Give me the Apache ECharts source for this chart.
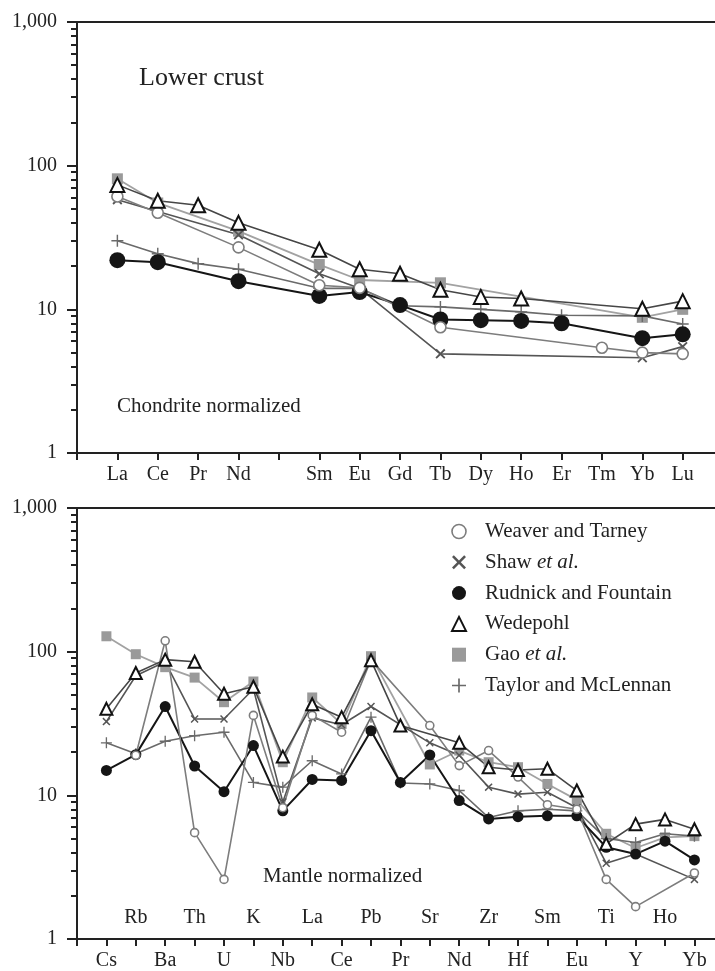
<!DOCTYPE html>
<html>
<head>
<meta charset="utf-8">
<title>Lower crust</title>
<script src="https://cdn.jsdelivr.net/npm/echarts@6/dist/echarts.min.js"></script>
<style>
  html, body { margin: 0; padding: 0; background: #fff; }
  #main { width: 715px; height: 971px; }
</style>
</head>
<body>
<div id="main"></div>
<script>
// 上图：稀土元素（球粒陨石标准化）
var reeLabels = ['La', 'Ce', 'Pr', 'Nd', '', 'Sm', 'Eu', 'Gd', 'Tb', 'Dy', 'Ho', 'Er', 'Tm', 'Yb', 'Lu'];
var weaverREE   = [61, 47, null, 27, null, 14.7, 14.1, null, 7.5, null, null, null, 5.4, 5.0, 4.9];
var shawREE     = [58, 48, null, 33, null, 17.7, 14, null, 4.9, null, null, null, null, 4.6, 5.5];
var rudnickREE  = [22, 21.3, null, 15.7, null, 12.4, 13.2, 10.7, 8.5, 8.4, 8.3, 8.0, null, 6.3, 6.7];
var wedepohlREE = [73.5, 57, 53, 40, null, 26, 19, 17.7, 13.7, 12.2, 11.9, null, null, 10.1, 11.4];
var gaoREE      = [81, 55, null, 35, null, 20.5, 16, null, 15.3, null, null, null, null, 8.8, 10];
var taylorREE   = [30, 24.4, 20.8, 19, null, 14, 14, 10.6, 10.4, 10, 9.6, 9.1, null, 9.0, 7.9];

// 下图：微量元素（原始地幔标准化）
var mantleLabels = ['Cs', 'Rb', 'Ba', 'Th', 'U', 'K', 'Nb', 'La', 'Ce', 'Pb', 'Pr', 'Sr', 'Nd', 'Zr', 'Hf', 'Sm', 'Eu', 'Ti', 'Y', 'Ho', 'Yb'];
var weaverPM   = [null, 19, 119, 5.5, 2.6, 36, 8.2, 36, 27.5, 88, null, 30.6, 16.1, 20.5, 13.4, 8.6, 8.0, 2.6, 1.68, null, 2.88];
var shawPM     = [32.6, 68, 85, 34, 34, 55, 9, 34.6, 31, 41.5, null, 23.2, 19, 11.4, 10.2, 10.5, 8.2, 3.37, 3.9, null, 2.6];
var rudnickPM  = [14.9, 19.2, 41.5, 16, 10.6, 22.2, 7.8, 12.9, 12.7, 28.2, 12.3, 19.1, 9.2, 6.85, 7.1, 7.2, 7.2, 4.35, 3.9, 4.8, 3.55];
var wedepohlPM = [40, 71, 88, 85, 51, 57, 18.6, 43, 35, 87, 30.6, null, 23.2, 15.7, 15, 15.3, 10.8, 4.6, 6.3, 6.8, 5.8];
var gaoPM      = [128, 96, 78, 66, 44.5, 62, 17, 48, 31.4, 93, null, 16.4, 20.5, 17, 15.7, 12, 9.3, 5.4, 4.3, 5.1, 5.2];
var taylorPM   = [23.2, 19.5, 23.8, 26, 27.5, 12.3, 11.4, 17.4, 14.1, 35, 12.2, 12.0, 10.8, 7.0, 7.8, 8.0, 7.8, 5.0, 4.7, 5.4, 5.2];

var yMinorTicks = [2, 3, 4, 5, 6, 7, 8, 9, 20, 30, 40, 50, 60, 70, 80, 90, 200, 300, 400, 500, 600, 700, 800, 900];

var FONT = '"Liberation Serif", "DejaVu Serif", serif';
var AXIS_COLOR = '#222';
var crossPath = 'path://M0,1.3L1.3,0L5,3.7L8.7,0L10,1.3L6.3,5L10,8.7L8.7,10L5,6.3L1.3,10L0,8.7L3.7,5Z';
var plusPath = 'path://M4.4,0H5.6V4.4H10V5.6H5.6V10H4.4V5.6H0V4.4H4.4Z';

var styles = {
	'Weaver and Tarney': { line: '#7d7d7d', symbol: 'circle', fill: '#fff', border: '#7d7d7d', bw: 1.6, size: [11, 8], lw: 1.6 },
	'Shaw et al.': { line: '#555', symbol: crossPath, fill: '#555', border: '#555', bw: 0, size: [10, 8], lw: 1.6 },
	'Rudnick and Fountain': { line: '#151515', symbol: 'circle', fill: '#151515', border: '#151515', bw: 0, size: [16, 11], lw: 2 },
	'Wedepohl': { line: '#464646', symbol: 'triangle', fill: '#fff', border: '#111', bw: 2, size: [14, 12], lw: 1.6 },
	'Gao et al.': { line: '#a2a2a2', symbol: 'rect', fill: '#9a9a9a', border: '#9a9a9a', bw: 0, size: [11, 10], lw: 1.8 },
	'Taylor and McLennan': { line: '#6a6a6a', symbol: plusPath, fill: '#6a6a6a', border: '#6a6a6a', bw: 0, size: [12, 11], lw: 1.6 }
};
var legendOrder = ['Weaver and Tarney', 'Shaw et al.', 'Rudnick and Fountain', 'Wedepohl', 'Gao et al.', 'Taylor and McLennan'];
var drawOrder = ['Gao et al.', 'Taylor and McLennan', 'Shaw et al.', 'Rudnick and Fountain', 'Weaver and Tarney', 'Wedepohl'];
var reeData = {
	'Weaver and Tarney': weaverREE, 'Shaw et al.': shawREE, 'Rudnick and Fountain': rudnickREE,
	'Wedepohl': wedepohlREE, 'Gao et al.': gaoREE, 'Taylor and McLennan': taylorREE
};
var pmData = {
	'Weaver and Tarney': weaverPM, 'Shaw et al.': shawPM, 'Rudnick and Fountain': rudnickPM,
	'Wedepohl': wedepohlPM, 'Gao et al.': gaoPM, 'Taylor and McLennan': taylorPM
};

function toPairs(arr) {
	var out = [];
	for (var i = 0; i < arr.length; i++) {
		out.push([i + 1, arr[i] == null ? null : arr[i]]);
	}
	return out;
}

function makeSeries(name, values, gi, panel) {
	var s = styles[name];
	return {
		name: name,
		type: 'line',
		xAxisIndex: gi * 3,
		yAxisIndex: gi * 2,
		data: toPairs(values),
		connectNulls: true,
		symbol: s.symbol,
		symbolSize: s.size[panel],
		showSymbol: true,
		animation: false,
		lineStyle: { color: s.line, width: s.lw },
		itemStyle: { color: s.fill, borderColor: s.border, borderWidth: s.bw, opacity: 1 },
		emphasis: { disabled: true }
	};
}

function yAxes(gi) {
	return [{
		type: 'log', logBase: 10, gridIndex: gi, min: 1, max: 1000,
		axisLine: { show: true, lineStyle: { color: AXIS_COLOR, width: 2 } },
		axisTick: { show: true, length: 10, lineStyle: { color: AXIS_COLOR, width: 2 } },
		axisLabel: {
			margin: 20, color: '#222', fontFamily: FONT, fontSize: 20,
			formatter: function (v) { return v >= 1000 ? '1,000' : String(v); }
		},
		splitLine: { show: false }
	}, {
		// 对数刻度的次刻度（2~9）
		type: 'value', gridIndex: gi, min: 0, max: 3, position: 'left',
		axisLine: { show: false },
		axisTick: {
			show: true, length: 6, lineStyle: { color: AXIS_COLOR, width: 2 },
			customValues: yMinorTicks.map(function (v) { return Math.log10(v); })
		},
		axisLabel: { show: false },
		splitLine: { show: false }
	}];
}

function xAxes(gi, labels, maxIdx, split) {
	var base = {
		type: 'value', gridIndex: gi, min: 0, max: maxIdx, interval: 1,
		splitLine: { show: false }
	};
	var main = echarts.util.merge({
		position: 'bottom',
		axisLine: { show: true, onZero: false, lineStyle: { color: AXIS_COLOR, width: 2 } },
		axisTick: { show: true, length: 7, lineStyle: { color: AXIS_COLOR, width: 2 } },
		axisLabel: {
			margin: 12, color: '#222', fontFamily: FONT, fontSize: 20, showMaxLabel: false,
			formatter: function (v) {
				if (v !== Math.round(v) || v < 1 || v > labels.length) return '';
				if (split && v % 2 === 0) return '';
				return labels[v - 1];
			}
		}
	}, base, true);
	var inner = echarts.util.merge({
		position: 'bottom',
		axisLine: { show: false, onZero: false },
		axisTick: { show: false },
		axisLabel: {
			show: split, inside: true, margin: 11, color: '#222', fontFamily: FONT, fontSize: 20,
			showMaxLabel: false,
			formatter: function (v) {
				if (v !== Math.round(v) || v < 1 || v > labels.length) return '';
				if (v % 2 === 1) return '';
				return labels[v - 1];
			}
		}
	}, base, true);
	var frame = echarts.util.merge({
		position: 'top',
		axisLine: { show: true, onZero: false, lineStyle: { color: AXIS_COLOR, width: 2 } },
		axisTick: { show: false },
		axisLabel: { show: false }
	}, base, true);
	return [main, inner, frame];
}

var series = [];
for (var k = 0; k < drawOrder.length; k++) {
	series.push(makeSeries(drawOrder[k], reeData[drawOrder[k]], 0, 0));
}
for (var k2 = 0; k2 < drawOrder.length; k2++) {
	series.push(makeSeries(drawOrder[k2], pmData[drawOrder[k2]], 1, 1));
}

var legendData = [];
for (var j = 0; j < legendOrder.length; j++) {
	var st = styles[legendOrder[j]];
	legendData.push({
		name: legendOrder[j],
		icon: st.symbol,
		itemStyle: { color: st.fill, borderColor: st.border, borderWidth: st.bw }
	});
}

var titleStyle = { fontFamily: FONT, fontSize: 21, fontWeight: 'normal', color: '#222' };
var option = {
	backgroundColor: '#fff',
	animation: false,
	title: [
		{ text: 'Lower crust', left: 139, top: 65, padding: 0, textStyle: { fontFamily: FONT, fontSize: 26, fontWeight: 'normal', color: '#222' } },
		{ text: 'Chondrite normalized', left: 117, top: 396, padding: 0, textStyle: titleStyle },
		{ text: 'Mantle normalized', left: 263, top: 866, padding: 0, textStyle: titleStyle }
	],
	legend: {
		orient: 'vertical',
		left: 451,
		top: 521,
		padding: 0,
		itemWidth: 14,
		itemHeight: 14,
		itemGap: 9.8,
		selectedMode: false,
		data: legendData,
		textStyle: {
			fontFamily: FONT, fontSize: 21, color: '#222', lineHeight: 21, padding: [0, 0, 0, 14],
			rich: { i: { fontFamily: FONT, fontSize: 21, fontStyle: 'italic', color: '#222' } }
		},
		formatter: function (name) {
			return name.replace(' et al.', ' {i|et al.}');
		}
	},
	grid: [
		{ left: 77, top: 22, right: 0, height: 431 },
		{ left: 77, top: 508, right: 0, height: 432 }
	],
	xAxis: xAxes(0, reeLabels, 15.8, false).concat(xAxes(1, mantleLabels, 21.7, true)),
	yAxis: yAxes(0).concat(yAxes(1)),
	series: series
};

var chart = echarts.init(document.getElementById('main'));
chart.setOption(option);
</script>
</body>
</html>
